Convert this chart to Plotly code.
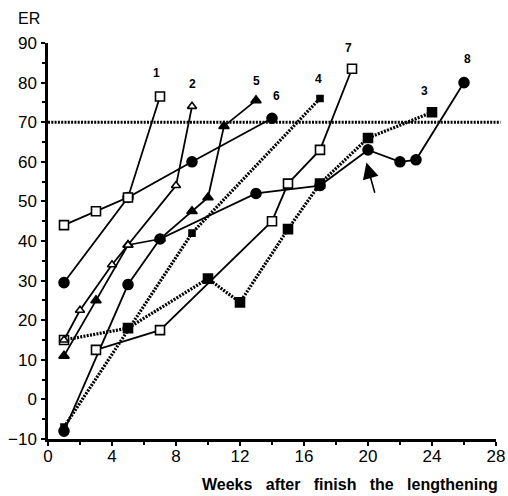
import plotly.graph_objects as go

# ---- data ----
s1_x = [1, 3, 5, 7];            s1_y = [44, 47.5, 51, 76.5]
s2_x = [1, 2, 4, 5, 8, 9];      s2_y = [15, 22.5, 34, 39, 54, 74]
s3_x = [1, 5, 10, 12, 15, 17, 20, 24]
s3_y = [15, 18, 30.5, 24.5, 43, 54.5, 66, 72.5]
s4_x = [1, 9, 17];              s4_y = [-7, 42, 76]
s5_x = [1, 3, 5, 7, 9, 10, 11, 13]
s5_y = [11, 25, 39, 40.5, 47.5, 51, 69, 75.5]
s6_x = [1, 5, 9, 14];           s6_y = [29.5, 51, 60, 71]
s7_x = [3, 7, 14, 15, 17, 19];  s7_y = [12.5, 17.5, 45, 54.5, 63, 83.5]
s8_x = [1, 5, 7, 13, 17, 20, 22, 23, 26]
s8_y = [-8, 29, 40.5, 52, 54, 63, 60, 60.5, 80]

label_text = ["1", "2", "5", "6", "4", "7", "3", "8"]
label_x = [6.8, 9.0, 13.0, 14.3, 16.9, 18.8, 23.5, 26.2]
label_y = [82.5, 79.6, 80.5, 76.6, 80.9, 88.7, 77.9, 85.9]

threshold = 70
x_ticks = [0, 4, 8, 12, 16, 20, 24, 28]
y_ticks = [-10, 0, 10, 20, 30, 40, 50, 60, 70, 80, 90]

FONT = "Liberation Sans, Arial, sans-serif"
DOT = "2px,1.3px"

fig = go.Figure()

def add(x, y, symbol, fill, size, dash=None, width=1.8, mcolors=None):
    fig.add_trace(go.Scatter(
        x=x, y=y, mode="lines+markers", cliponaxis=False,
        line=dict(color="black", width=width, dash=dash),
        marker=dict(symbol=symbol, size=size,
                    color=mcolors if mcolors else fill,
                    line=dict(color="black", width=1.6)),
        showlegend=False, hoverinfo="skip"))

# dotted series
add(s4_x, s4_y, "square", "black", 6, dash=DOT, width=3.2)
s3_colors = ["white"] + ["black"] * (len(s3_x) - 1)
add(s3_x, s3_y, "square", "black", 9, dash=DOT, width=3.2, mcolors=s3_colors)
# solid series
add(s8_x, s8_y, "circle", "black", 10)
add(s5_x, s5_y, "triangle-up", "black", 9)
add(s6_x, s6_y, "circle", "black", 10)
add(s2_x, s2_y, "triangle-up", "white", 8)
add(s7_x, s7_y, "square", "white", 9)
add(s1_x, s1_y, "square", "white", 9)

# horizontal reference line at 70
fig.add_shape(type="line", xref="paper", yref="y", x0=0, x1=1.01,
              y0=threshold, y1=threshold,
              line=dict(color="black", width=3, dash=DOT))

for t, x, y in zip(label_text, label_x, label_y):
    fig.add_annotation(x=x, y=y, text="<b>%s</b>" % t, showarrow=False,
                       font=dict(family=FONT, size=12, color="black"))

# arrow
fig.add_annotation(x=19.9, y=59.8, ax=20.45, ay=51.8, xref="x", yref="y",
                   axref="x", ayref="y", text="", showarrow=True,
                   arrowhead=2, arrowsize=2, arrowwidth=1.6,
                   arrowcolor="black")

# axis titles
fig.add_annotation(xref="paper", yref="paper", x=-0.072, y=1.062,
                   text="ER", showarrow=False, xanchor="left",
                   yanchor="middle",
                   font=dict(family=FONT, size=16, color="black"))
fig.add_annotation(xref="paper", yref="paper", x=1.01, y=-0.114,
                   text="<b>Weeks   after   finish   the   lengthening</b>",
                   showarrow=False, xanchor="right", yanchor="middle",
                   font=dict(family=FONT, size=16, color="black"))

fig.update_xaxes(range=[0, 28], tickvals=x_ticks, showline=True,
                 automargin=False,
                 linecolor="black", linewidth=2.5, ticks="outside",
                 ticklen=4, tickwidth=2, tickcolor="black",
                 minor=dict(dtick=2, ticks="outside", ticklen=3,
                            tickwidth=1.5, tickcolor="black"),
                 showgrid=False, zeroline=False, ticklabelstandoff=-4,
                 tickfont=dict(family=FONT, size=17, color="black"))
fig.update_yaxes(range=[-10, 90], tickvals=y_ticks, showline=True,
                 automargin=False,
                 linecolor="black", linewidth=2.5, ticks="outside",
                 ticklen=4, tickwidth=2, tickcolor="black",
                 minor=dict(dtick=5, ticks="outside", ticklen=3,
                            tickwidth=1.5, tickcolor="black"),
                 showgrid=False, zeroline=False, ticklabelstandoff=1,
                 tickfont=dict(family=FONT, size=17, color="black"))

fig.update_layout(width=508, height=496,
                  margin=dict(l=48, r=12, t=43, b=57),
                  plot_bgcolor="white", paper_bgcolor="white")

fig.write_html("out.html")
